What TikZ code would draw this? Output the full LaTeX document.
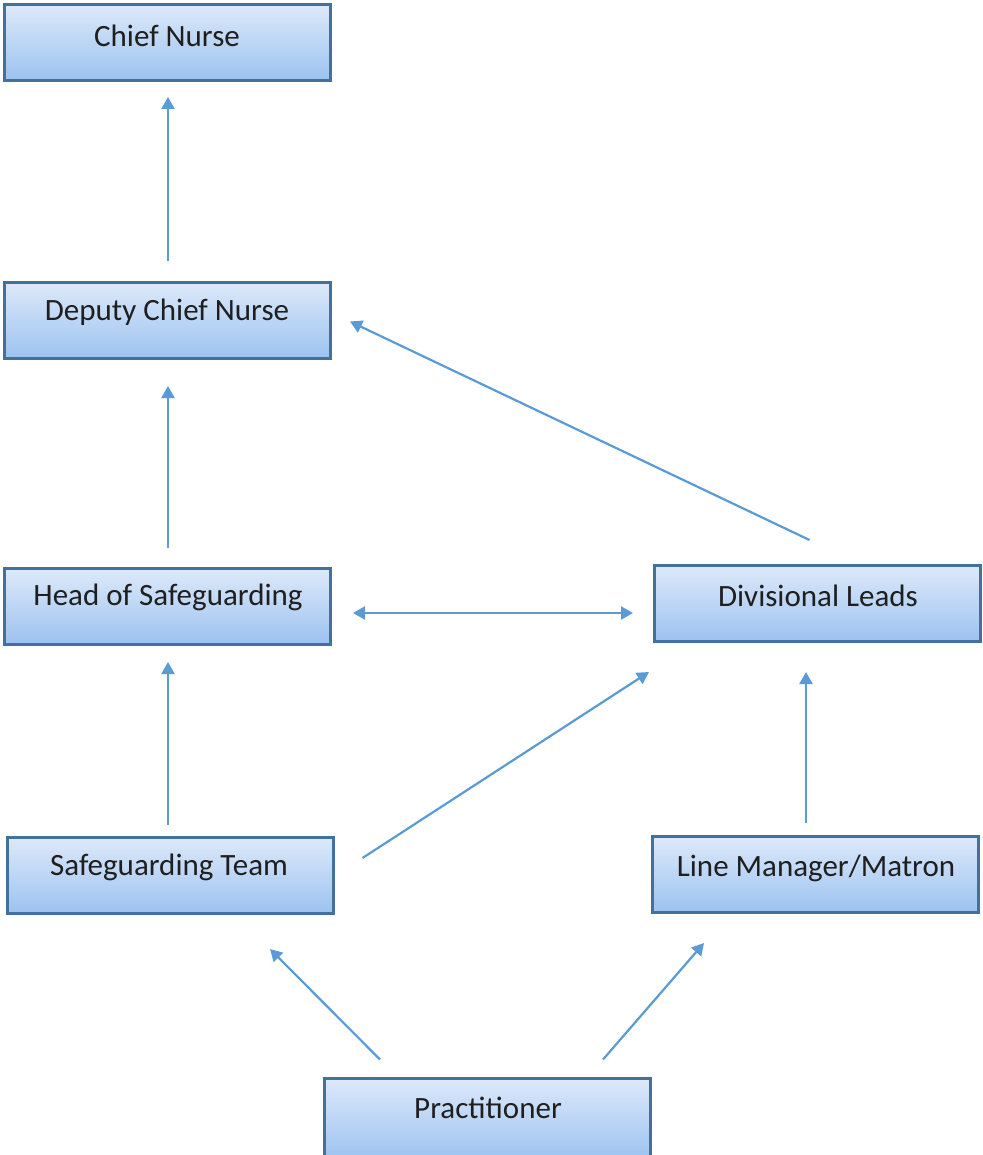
\documentclass[tikz,border=0pt]{standalone}
\usepackage{fontspec}
\setmainfont{Carlito}
\usetikzlibrary{arrows.meta,calc}
\definecolor{bord}{RGB}{65,113,156}
\definecolor{arr}{RGB}{91,155,213}
\definecolor{topc}{RGB}{221,233,250}
\definecolor{botc}{RGB}{156,194,240}
\tikzset{
  box/.style={draw=bord, line width=3pt, top color=topc, bottom color=botc, inner sep=0pt, minimum width=326pt, minimum height=76pt},
  lbl/.style={inner sep=0pt, font=\fontsize{31}{36}\selectfont, text=black!88},
  conn/.style={draw=arr, line width=2.2pt, -{Triangle[length=12pt,width=13pt]}},
  conn2/.style={draw=arr, line width=2.2pt, {Triangle[length=12pt,width=13pt]}-{Triangle[length=12pt,width=13pt]}}
}
\begin{document}
\begin{tikzpicture}[x=1pt,y=1pt]
\useasboundingbox (0,0) rectangle (982,-1155);
% boxes
\node[box] (chief) at (167.5,-42.5) {};
\node[box] (dep) at (167.5,-320.5) {};
\node[box] (head) at (167.5,-606.5) {};
\node[box] (div) at (817.5,-603.5) {};
\node[box] (team) at (170,-875.5) {};
\node[box] (lm) at (815.5,-874.5) {};
\node[box, minimum height=82pt] (prac) at (487,-1119) {};
% labels
\node[lbl] (chiefT) at (167,-36) {Chief Nurse};
\node[lbl] (depT) at (167,-312) {Deputy Chief Nurse};
\node[lbl] (headT) at (168,-597) {Head of Safeguarding};
\node[lbl] (divT) at (818,-596) {Divisional Leads};
\node[lbl] (teamT) at (169,-867) {Safeguarding Team};
\node[lbl] (lmT) at (816,-868) {Line Manager/Matron};
\node[lbl] (pracT) at (488,-1108) {Practitioner};
% connectors
\draw[conn, shorten <=20pt, shorten >=15pt] ([xshift=0.5pt]dep.north) -- ([xshift=0.5pt]chief.south);
\draw[conn, shorten <=19pt, shorten >=26pt] ([xshift=0.5pt]head.north) -- ([xshift=0.5pt]dep.south);
\draw[conn, shorten <=11pt, shorten >=16pt] ([xshift=-2pt]team.north) -- ([xshift=0.5pt]head.south);
\draw[conn, shorten <=12pt, shorten >=29pt] ([xshift=-9.5pt]lm.north) -- ([xshift=-11.5pt]div.south);
\draw[conn2] ([shift={(21pt,-6.5pt)}]head.east) -- ([shift={(-20pt,-9.5pt)}]div.west);
\draw[conn] ([shift={(-8pt,24pt)}]div.north) -- ([shift={(18pt,-1pt)}]dep.east);
\draw[conn] ([shift={(28pt,17.5pt)}]team.east) -- ([shift={(-4pt,-29pt)}]div.south west);
\draw[conn] ([shift={(-107pt,17pt)}]prac.north) -- ([shift={(100pt,-34pt)}]team.south);
\draw[conn] ([shift={(116pt,17pt)}]prac.north) -- ([shift={(-111.5pt,-29pt)}]lm.south);
\end{tikzpicture}
\end{document}
